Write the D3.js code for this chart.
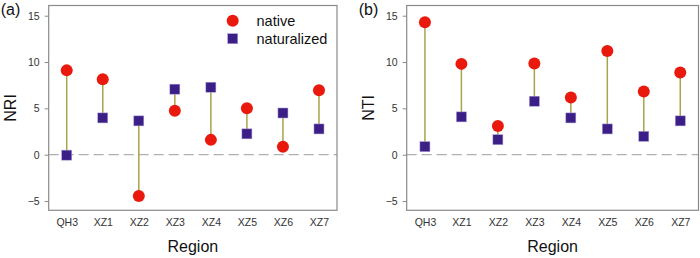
<!DOCTYPE html>
<html>
<head>
<meta charset="utf-8">
<script src="https://cdn.jsdelivr.net/npm/d3@7"></script>
<style>
body { margin: 0; background: #fff; }
text { font-family: "Liberation Sans", Arial, sans-serif; }
</style>
</head>
<body>
<script>
var width = 700;
var height = 258;

var regions = ["QH3", "XZ1", "XZ2", "XZ3", "XZ4", "XZ5", "XZ6", "XZ7"];
var nriNative = [9.1, 8.15, -4.45, 4.75, 1.6, 5.0, 0.87, 6.95];
var nriNaturalized = [-0.05, 3.97, 3.65, 7.07, 7.28, 2.25, 4.5, 2.78];
var ntiNative = [14.28, 9.8, 3.1, 9.85, 6.17, 11.18, 6.82, 8.87];
var ntiNaturalized = [0.87, 4.08, 1.62, 5.77, 3.97, 2.78, 1.98, 3.65];
var yTicks = [-5, 0, 5, 10, 15];

var svg = d3.select("body")
            .append("svg")
            .attr("width", width)
            .attr("height", height);

var plotTop = 5.5, plotBottom = 210.3;

function panel(left, right, tag, yName, nativeVals, natVals, legend) {
    var g = svg.append("g");

    var x = d3.scalePoint()
              .domain(regions)
              .range([left, right])
              .padding(0.5);

    var y = d3.scaleLinear()
              .domain([-6.0, 16.1])
              .range([plotBottom, plotTop]);

    // zero line
    g.append("line")
     .attr("x1", left).attr("x2", right)
     .attr("y1", y(0)).attr("y2", y(0))
     .attr("stroke", "#b0b0b0")
     .attr("stroke-width", 1.2)
     .attr("stroke-dasharray", "10,5");

    // frame
    g.append("rect")
     .attr("x", left).attr("y", plotTop)
     .attr("width", right - left).attr("height", plotBottom - plotTop)
     .attr("fill", "none")
     .attr("stroke", "#8a8a8a")
     .attr("stroke-width", 1.2);

    var yAxis = g.append("g")
                 .attr("transform", "translate(" + left + ",0)")
                 .call(d3.axisLeft(y).tickValues(yTicks).tickSize(4).tickPadding(5));
    yAxis.select(".domain").remove();
    yAxis.selectAll("line").attr("stroke", "#8a8a8a");
    yAxis.selectAll("text")
         .attr("font-size", "10.5px")
         .attr("fill", "#333")
         .style("font-family", "'Liberation Sans', Arial, sans-serif");

    var xAxis = g.append("g")
                 .attr("transform", "translate(0," + plotBottom + ")")
                 .call(d3.axisBottom(x).tickSize(0).tickPadding(8));
    xAxis.select(".domain").remove();
    xAxis.selectAll("text")
         .attr("font-size", "10.5px")
         .attr("fill", "#333")
         .style("font-family", "'Liberation Sans', Arial, sans-serif");

    // stems
    g.selectAll(".stem")
     .data(regions)
     .enter()
     .append("line")
     .attr("x1", function(d) { return x(d); })
     .attr("x2", function(d) { return x(d); })
     .attr("y1", function(d, i) { return y(nativeVals[i]); })
     .attr("y2", function(d, i) { return y(natVals[i]); })
     .attr("stroke", "#aaa24c")
     .attr("stroke-width", 1.5);

    g.selectAll(".sq")
     .data(regions)
     .enter()
     .append("rect")
     .attr("x", function(d) { return x(d) - 5; })
     .attr("y", function(d, i) { return y(natVals[i]) - 5; })
     .attr("width", 10)
     .attr("height", 10)
     .attr("fill", "#3b1f86")
     .attr("stroke", "#a89ad6")
     .attr("stroke-width", 0.5);

    g.selectAll(".dot")
     .data(regions)
     .enter()
     .append("circle")
     .attr("cx", function(d) { return x(d); })
     .attr("cy", function(d, i) { return y(nativeVals[i]); })
     .attr("r", 6)
     .attr("fill", "#e91a0d");

    g.append("text")
     .attr("x", (left + right) / 2)
     .attr("y", 252)
     .attr("text-anchor", "middle")
     .attr("font-size", "16px")
     .attr("fill", "#111")
     .text("Region");

    g.append("text")
     .attr("transform", "translate(" + (left - 33) + "," + ((plotTop + plotBottom) / 2) + ") rotate(-90)")
     .attr("text-anchor", "middle")
     .attr("font-size", "16px")
     .attr("fill", "#111")
     .text(yName);

    g.append("text")
     .attr("x", left - 48)
     .attr("y", 15)
     .attr("font-size", "16px")
     .attr("fill", "#111")
     .text(tag);

    if (legend) {
        g.append("circle")
         .attr("cx", 232.7).attr("cy", 20.7).attr("r", 6)
         .attr("fill", "#e91a0d");
        g.append("rect")
         .attr("x", 227.7).attr("y", 33.7).attr("width", 10).attr("height", 10)
         .attr("fill", "#3b1f86")
         .attr("stroke", "#a89ad6")
         .attr("stroke-width", 0.5);
        g.append("text")
         .attr("x", 256.5).attr("y", 25.5)
         .attr("font-size", "14.5px").attr("fill", "#111")
         .text("native");
        g.append("text")
         .attr("x", 256.5).attr("y", 43.5)
         .attr("font-size", "14.5px").attr("fill", "#111")
         .text("naturalized");
    }
}

panel(48.7, 337, "(a)", "NRI", nriNative, nriNaturalized, true);
panel(406.7, 698.5, "(b)", "NTI", ntiNative, ntiNaturalized, false);
</script>
</body>
</html>
